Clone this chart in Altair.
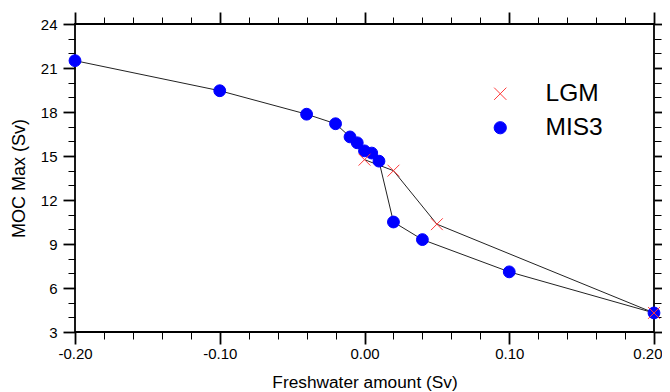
import altair as alt
import pandas as pd

# ---- data ----
mis3_x = [-0.20, -0.10, -0.04, -0.02, -0.01, -0.005, 0.0, 0.005, 0.01, 0.02, 0.04, 0.10, 0.20]
mis3_y = [21.5, 19.45, 17.85, 17.2, 16.3, 15.9, 15.35, 15.2, 14.65, 10.5, 9.3, 7.1, 4.3]
lgm_x = [0.0, 0.02, 0.05, 0.20]
lgm_y = [14.75, 14.0, 10.35, 4.3]
series_names = ["LGM", "MIS3"]
series_colors = ["#ff3b3b", "#0000ff"]

x_tick_values = [-0.20, -0.18, -0.16, -0.14, -0.12, -0.10, -0.08, -0.06, -0.04, -0.02,
                 0.0, 0.02, 0.04, 0.06, 0.08, 0.10, 0.12, 0.14, 0.16, 0.18, 0.20]
y_tick_values = [3, 4, 5, 6, 7, 8, 9, 10, 11, 12, 13, 14, 15, 16, 17, 18, 19, 20, 21, 22, 23, 24]

df = pd.DataFrame({
    "series": ["MIS3"] * len(mis3_x) + ["LGM"] * len(lgm_x),
    "x": mis3_x + lgm_x,
    "y": mis3_y + lgm_y,
})

FONT = "Liberation Sans"
x_major = "abs(round(datum.value*50)) % 5 == 0"
y_major = "round(datum.value) % 3 == 0"
x_label_expr = f"{x_major} ? replace(format(datum.value, '.2f'), '\u2212', '-') : ''"
y_label_expr = f"{y_major} ? format(datum.value, 'd') : ''"
x_last = "datum.value > 0.19"

common_axis = dict(domain=False, grid=False, tickColor="black", labelColor="black",
                   titleColor="black", labelFont=FONT, titleFont=FONT,
                   labelFontSize=15, titleFontWeight="normal")

x_bottom = alt.Axis(orient="bottom", values=x_tick_values, labelExpr=x_label_expr,
                    tickSize={"condition": {"test": x_major, "value": 12}, "value": 7},
                    tickWidth={"condition": {"test": x_major, "value": 1.8}, "value": 1},
                    labelAlign={"condition": {"test": x_last, "value": "right"}, "value": "center"},
                    labelOffset={"condition": {"test": x_last, "value": 8}, "value": 0},
                    labelPadding=2, title="Freshwater amount (Sv)", titlePadding=12,
                    titleFontSize=17.3,
                    labelFlush=False, labelOverlap=False, **common_axis)
x_top = alt.Axis(orient="top", values=x_tick_values, labels=False, title=None,
                 tickSize={"condition": {"test": x_major, "value": 12}, "value": 7},
                 tickWidth={"condition": {"test": x_major, "value": 1.8}, "value": 1},
                 **common_axis)
y_left = alt.Axis(orient="left", values=y_tick_values, labelExpr=y_label_expr,
                  tickSize={"condition": {"test": y_major, "value": 12}, "value": 7},
                  tickWidth={"condition": {"test": y_major, "value": 1.8}, "value": 1},
                  labelPadding=6, title="MOC Max (Sv)", titlePadding=12,
                  titleFontSize=18,
                  labelFlush=False, labelOverlap=False, **common_axis)
y_right = alt.Axis(orient="right", values=y_tick_values, labels=False, title=None,
                   tickSize={"condition": {"test": y_major, "value": 12}, "value": 7},
                   tickWidth={"condition": {"test": y_major, "value": 1.8}, "value": 1},
                   **common_axis)

xscale = alt.Scale(domain=[-0.2, 0.2], nice=False, zero=False)
yscale = alt.Scale(domain=[3, 24], nice=False, zero=False)

lines = alt.Chart(df).mark_line(color="#222222", strokeWidth=1).encode(
    x=alt.X("x:Q", scale=xscale, axis=x_bottom),
    y=alt.Y("y:Q", scale=yscale, axis=y_left),
    detail="series:N",
)

x_path = "M-1,-1L1,1M-1,1L1,-1"
legend = alt.Legend(orient="none", legendX=413, legendY=57.5, title=None,
                    labelFont=FONT, labelFontSize=24.5, labelColor="black",
                    symbolSize=150, symbolStrokeWidth=1, labelOffset=33,
                    rowPadding=9, padding=0)

points = alt.Chart(df).mark_point(size=140, strokeWidth=1, opacity=1).encode(
    x=alt.X("x:Q", scale=xscale, axis=x_top),
    y=alt.Y("y:Q", scale=yscale, axis=y_right),
    stroke=alt.Stroke("series:N", scale=alt.Scale(domain=series_names, range=series_colors), legend=legend),
    fill=alt.Fill("series:N", scale=alt.Scale(domain=series_names, range=["transparent", "#0000ff"]), legend=legend),
    shape=alt.Shape("series:N", scale=alt.Scale(domain=series_names, range=[x_path, "circle"]), legend=legend),
)

chart = alt.layer(lines, points).resolve_axis(x="independent", y="independent").properties(
    width=579, height=308,
    autosize=alt.AutoSizeParams(type="none"),
    padding={"left": 67, "top": 16, "right": 8, "bottom": 60},
).configure_view(stroke="black", strokeWidth=1.8)

chart.save("out.html", embed_options={"renderer": "svg", "actions": False})
